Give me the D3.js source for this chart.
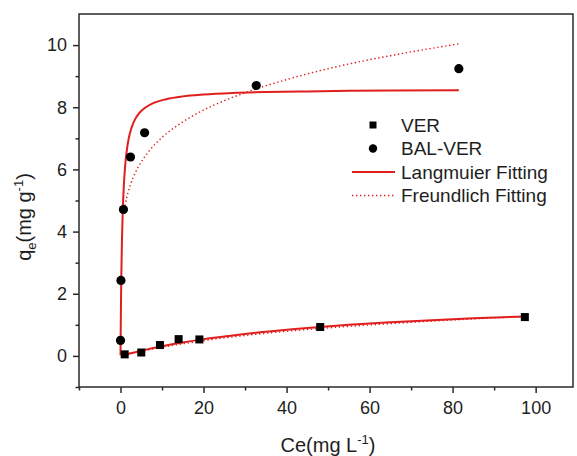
<!DOCTYPE html>
<html>
<head>
<meta charset="utf-8">
<script src="https://cdn.jsdelivr.net/npm/d3@7"></script>
<style>
  html, body { margin: 0; padding: 0; background: #fff; }
  svg { display: block; font-family: "Liberation Sans", Arial, sans-serif; }
</style>
</head>
<body>
<svg id="chart" width="577" height="456"></svg>
<script>
// ---- data ----
const verCe = [1.0, 5.0, 9.5, 14.0, 19.0, 48.1, 97.4];
const verQe = [0.05, 0.11, 0.35, 0.54, 0.53, 0.93, 1.25];

const balCe = [0.0, 0.1, 0.7, 2.4, 5.8, 32.7, 81.5];
const balQe = [0.50, 2.43, 4.71, 6.40, 7.18, 8.70, 9.24];

// fitted curves
const balLangCe = [0, 0.03, 0.1, 0.2, 0.35, 0.55, 0.8, 1.1, 1.5, 2, 2.7, 3.5, 4.5, 6, 8, 11, 15, 20, 27, 35, 45, 55, 65, 81.5];
const balLangQe = [0.02, 0.53, 1.55, 2.63, 3.74, 4.71, 5.48, 6.09, 6.60, 7.01, 7.36, 7.61, 7.81, 7.99, 8.14, 8.26, 8.35, 8.41, 8.46, 8.49, 8.51, 8.53, 8.54, 8.55];

const balFreuCe = [0.8, 1.2, 1.8, 2.5, 3.5, 5, 7, 10, 14, 19, 25, 32, 40, 50, 60, 70, 81.5];
const balFreuQe = [4.57, 4.90, 5.25, 5.55, 5.88, 6.24, 6.61, 7.03, 7.44, 7.84, 8.21, 8.56, 8.89, 9.24, 9.53, 9.78, 10.04];

const verLangCe = [1, 3, 6, 10, 15, 20, 27, 35, 45, 55, 65, 75, 85, 97.4];
const verLangQe = [0.04, 0.10, 0.20, 0.31, 0.43, 0.54, 0.66, 0.78, 0.90, 1.00, 1.08, 1.15, 1.21, 1.27];

const verFreuCe = [1, 3, 6, 10, 15, 20, 27, 35, 45, 55, 65, 75, 85, 97.4];
const verFreuQe = [0.04, 0.10, 0.18, 0.28, 0.39, 0.49, 0.61, 0.73, 0.85, 0.95, 1.04, 1.12, 1.19, 1.27];

const xTicks = [0, 20, 40, 60, 80, 100];
const xMinor = [-10, 10, 30, 50, 70, 90];
const yTicks = [0, 2, 4, 6, 8, 10];
const yMinor = [-1, 1, 3, 5, 7, 9];

const legendLabels = ["VER", "BAL-VER", "Langmuier Fitting", "Freundlich Fitting"];

// ---- drawing ----
const svg = d3.select("#chart");
const red = "#e01e1e";
const axisColor = "#2a2a2a";
const textColor = "#1e1e1e";

const x = d3.scaleLinear().domain([-10, 109]).range([79, 573]);
const y = d3.scaleLinear().domain([-1, 11]).range([387, 14]);

// frame
svg.append("rect")
  .attr("x", x(-10)).attr("y", y(11))
  .attr("width", x(109) - x(-10)).attr("height", y(-1) - y(11))
  .attr("fill", "none").attr("stroke", axisColor).attr("stroke-width", 1.5);

// axes
function styleAxis(g) {
  g.select(".domain").remove();
  g.selectAll(".tick line").attr("stroke", axisColor).attr("stroke-width", 1.5);
  g.selectAll(".tick text").attr("fill", textColor).attr("font-size", 18)
    .attr("font-family", '"Liberation Sans", Arial, sans-serif');
}

const gx = svg.append("g").attr("transform", `translate(0,${y(-1)})`)
  .call(d3.axisBottom(x).tickValues(xTicks).tickSize(6).tickPadding(8).tickFormat(d3.format("d")));
styleAxis(gx);
const gxm = svg.append("g").attr("transform", `translate(0,${y(-1)})`)
  .call(d3.axisBottom(x).tickValues(xMinor).tickSize(3.5).tickFormat(""));
styleAxis(gxm);

const gy = svg.append("g").attr("transform", `translate(${x(-10)},0)`)
  .call(d3.axisLeft(y).tickValues(yTicks).tickSize(6).tickPadding(6).tickFormat(d3.format("d")));
styleAxis(gy);
const gym = svg.append("g").attr("transform", `translate(${x(-10)},0)`)
  .call(d3.axisLeft(y).tickValues(yMinor).tickSize(3.5).tickFormat(""));
styleAxis(gym);

// axis titles
const xt = svg.append("text")
  .attr("x", 328).attr("y", 452).attr("text-anchor", "middle")
  .attr("font-size", 20).attr("fill", textColor);
xt.append("tspan").text("Ce(mg L");
xt.append("tspan").attr("dy", -8).attr("font-size", 13).text("-1");
xt.append("tspan").attr("dy", 8).text(")");

const yt = svg.append("text")
  .attr("transform", "translate(31,217) rotate(-90)")
  .attr("text-anchor", "middle").attr("font-size", 20).attr("fill", textColor);
yt.append("tspan").text("q");
yt.append("tspan").attr("dy", 5).attr("font-size", 13).text("e");
yt.append("tspan").attr("dy", -5).text("(mg g");
yt.append("tspan").attr("dy", -8).attr("font-size", 13).text("-1");
yt.append("tspan").attr("dy", 8).text(")");

// curves
const line = d3.line().x(d => x(d[0])).y(d => y(d[1])).curve(d3.curveMonotoneX);
function drawCurve(cs, qs, dotted) {
  svg.append("path")
    .datum(cs.map((c, i) => [c, qs[i]]))
    .attr("d", line)
    .attr("fill", "none")
    .attr("stroke", red)
    .attr("stroke-width", dotted ? 1.4 : 2)
    .attr("stroke-dasharray", dotted ? "1.4,2.6" : null);
}
drawCurve(balFreuCe, balFreuQe, true);
drawCurve(verFreuCe, verFreuQe, true);
drawCurve(balLangCe, balLangQe, false);
drawCurve(verLangCe, verLangQe, false);

// markers
const sq = 8;
svg.append("g").selectAll("rect")
  .data(verCe.map((c, i) => [c, verQe[i]]))
  .join("rect")
  .attr("x", d => x(d[0]) - sq / 2).attr("y", d => y(d[1]) - sq / 2)
  .attr("width", sq).attr("height", sq).attr("fill", "#000");

svg.append("g").selectAll("circle")
  .data(balCe.map((c, i) => [c, balQe[i]]))
  .join("circle")
  .attr("cx", d => x(d[0])).attr("cy", d => y(d[1])).attr("r", 4.6).attr("fill", "#000");

// legend
const lg = svg.append("g");
const rowY = [125, 148.5, 172, 195.5];
const symX = 373, textX = 401;
lg.append("rect").attr("x", symX - 3.5).attr("y", rowY[0] - 3.5).attr("width", 7).attr("height", 7).attr("fill", "#000");
lg.append("circle").attr("cx", symX).attr("cy", rowY[1]).attr("r", 4.2).attr("fill", "#000");
lg.append("line").attr("x1", 352).attr("x2", 395).attr("y1", rowY[2]).attr("y2", rowY[2])
  .attr("stroke", red).attr("stroke-width", 2);
lg.append("line").attr("x1", 352).attr("x2", 395).attr("y1", rowY[3]).attr("y2", rowY[3])
  .attr("stroke", red).attr("stroke-width", 1.4).attr("stroke-dasharray", "1.4,2.6");
lg.selectAll("text.lab").data(legendLabels).join("text")
  .attr("class", "lab")
  .attr("x", textX).attr("y", (d, i) => rowY[i]).attr("dy", "0.35em")
  .attr("font-size", 19).attr("fill", textColor).text(d => d);
</script>
</body>
</html>
